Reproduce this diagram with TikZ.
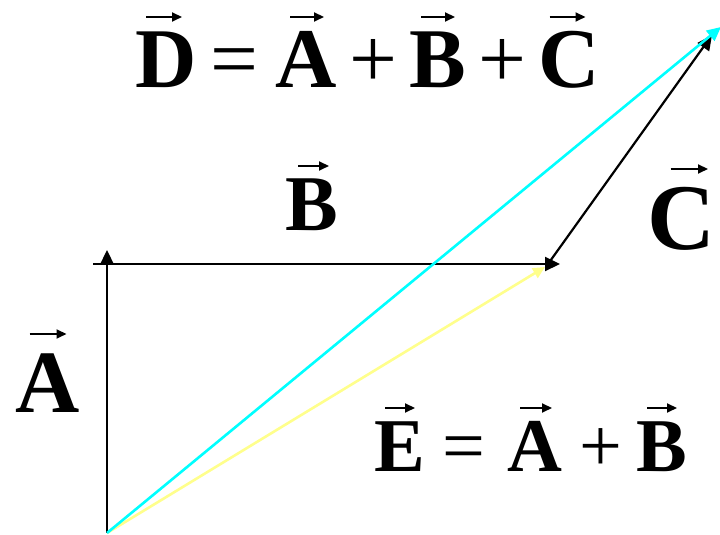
\documentclass[tikz,border=0pt]{standalone}
\usepackage{fontspec}
\setmainfont{Liberation Serif}
\usetikzlibrary{arrows.meta}
\definecolor{paleyellow}{RGB}{255,255,140}
\definecolor{cyanline}{RGB}{0,255,255}
\tikzset{
  vecblack/.style={line width=2.2pt, draw=black, -{Triangle[length=15pt,width=14pt]}},
  veccyan/.style={line width=2.6pt, draw=cyanline, -{Triangle[length=14pt,width=13pt]}},
  vecyellow/.style={line width=2.6pt, draw=paleyellow, -{Triangle[length=12pt,width=11pt]}},
  acc/.style={line width=2pt, -{Triangle[length=10pt,width=9pt]}},
  lbl/.style={inner sep=0pt, anchor=base west}
}
% accent arrow above a text node: node, centre x offset, half length, height above baseline
\newcommand\accarrow[4]{\draw[acc] ([shift={(#2-#3,#4)}]#1.base west) -- ([shift={(#2+#3,#4)}]#1.base west);}
\begin{document}
\begin{tikzpicture}[x=1pt,y=1pt]
\useasboundingbox (0,0) rectangle (720,535);
\coordinate (O) at (107,2);
\coordinate (Atip) at (107,285);
\coordinate (Bstart) at (93,271);
\coordinate (Btip) at (560,271);
\coordinate (Cstart) at (548,271);
\coordinate (Ctip) at (712,500);
\coordinate (Dtip) at (721,508);
\coordinate (Etip) at (545,268);
% vectors
\draw[vecyellow] (O) -- (Etip);
\draw[vecblack] (O) -- (Atip);
\draw[vecblack] (Bstart) -- (Btip);
\draw[vecblack] (Cstart) -- (Ctip);
\draw[veccyan] (O) -- (Dtip);
% D = A + B + C
\node[lbl, font=\fontsize{85}{90}\selectfont] (deq) at (135.6,447)
  {\textbf{D}\kern13pt=\kern17pt\textbf{A}\kern13pt+\kern12pt\textbf{B}\kern12pt+\kern12pt\textbf{C}};
\accarrow{deq}{28.4}{18}{71}
\accarrow{deq}{171.4}{17}{71}
\accarrow{deq}{302.4}{17}{71}
\accarrow{deq}{431.9}{18}{71}
% E = A + B
\node[lbl, font=\fontsize{76}{80}\selectfont] (eeq) at (373.8,63)
  {\textbf{E}\kern18pt=\kern21.5pt\textbf{A}\kern17.5pt+\kern14pt\textbf{B}};
\accarrow{eeq}{26.2}{15}{64}
\accarrow{eeq}{162.2}{16}{64}
\accarrow{eeq}{288.2}{15}{64}
% single labels
\node[inner sep=0pt, anchor=base, font=\fontsize{79}{84}\selectfont\bfseries] (blbl) at (312,304) {B};
\draw[acc] ([shift={(-14,65)}]blbl.base) -- ([shift={(17,65)}]blbl.base);
\node[inner sep=0pt, anchor=base, font=\fontsize{94}{98}\selectfont\bfseries] (clbl) at (681,285) {C};
\draw[acc] ([shift={(-10.5,81)}]clbl.base) -- ([shift={(27,81)}]clbl.base);
\node[inner sep=0pt, anchor=base, font=\fontsize{89}{94}\selectfont\bfseries] (albl) at (48,122) {A};
\draw[acc] ([shift={(-18.5,79)}]albl.base) -- ([shift={(18.5,79)}]albl.base);
\end{tikzpicture}
\end{document}
